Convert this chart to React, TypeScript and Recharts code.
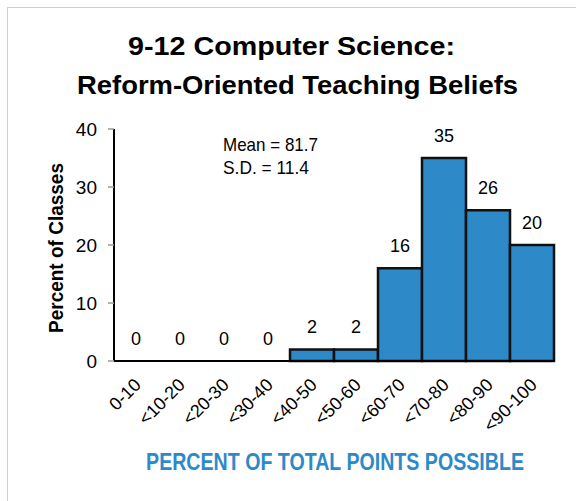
import React from 'react';
import { ComposedChart, Bar, Line, XAxis, YAxis, LabelList } from 'recharts';

const categories = ['0-10', '<10-20', '<20-30', '<30-40', '<40-50', '<50-60', '<60-70', '<70-80', '<80-90', '<90-100'];
const values = [0, 0, 0, 0, 2, 2, 16, 35, 26, 20];
const yTicks = [0, 10, 20, 30, 40];
const titleLines = ['9-12 Computer Science:', 'Reform-Oriented Teaching Beliefs'];
const yAxisTitle = 'Percent of Classes';
const xAxisTitle = 'PERCENT OF TOTAL POINTS POSSIBLE';
const statLines = ['Mean = 81.7', 'S.D. = 11.4'];

const data = categories.map((c, i) => ({ name: c, value: values[i] }));

const FONT = '"Liberation Sans", Arial, sans-serif';
const BLUE = '#2E89C8';

const XTick = (props: any) => {
  const { x, y, payload } = props;
  return (
    <g transform={`translate(${x + 6},${y + 17}) rotate(-45)`}>
      <text x={0} y={0} textAnchor="end" fontSize={18} fontFamily={FONT} fill="#000">
        {payload.value}
      </text>
    </g>
  );
};

export default function App() {
  return (
    <div style={{ position: 'absolute', left: 0, top: 0, width: 576, height: 501, background: '#fff', overflow: 'hidden' }}>
      <div style={{ position: 'absolute', left: 7, top: 7, width: 700, height: 700, borderTop: '1px solid #c6d0e4', borderLeft: '1px solid #c6d0e4' }} />
      <div style={{ position: 'absolute', left: 0, top: 0 }}>
        <ComposedChart width={576} height={501} data={data} margin={{ top: 129, right: 22, bottom: 50, left: 0 }} barCategoryGap={0}>
          <XAxis
            dataKey="name"
            height={90}
            interval={0}
            tick={<XTick />}
            tickLine={false}
            axisLine={{ stroke: '#000', strokeWidth: 2 }}
          />
          <YAxis
            width={114}
            domain={[0, 40]}
            ticks={yTicks}
            interval={0}
            tickSize={6}
            tickMargin={11}
            tick={{ fontSize: 19, fill: '#000', fontFamily: FONT }}
            tickLine={{ stroke: '#9a9a9a', strokeWidth: 1.5 }}
            axisLine={{ stroke: '#000', strokeWidth: 2 }}
          />
          <Bar dataKey="value" fill={BLUE} stroke="#111" strokeWidth={2.5} isAnimationActive={false} />
          <Line dataKey="value" stroke="none" dot={false} activeDot={false} isAnimationActive={false} legendType="none">
            <LabelList dataKey="value" position="top" offset={16} style={{ fontSize: 18, fill: '#000', fontFamily: FONT }} />
          </Line>
        </ComposedChart>
      </div>
      <svg width={576} height={501} style={{ position: 'absolute', left: 0, top: 0, pointerEvents: 'none' }}>
        <text x={291.5} y={55} textAnchor="middle" fontSize={26} fontWeight="bold" fontFamily={FONT} textLength={327} lengthAdjust="spacingAndGlyphs">
          {titleLines[0]}
        </text>
        <text x={297.5} y={94} textAnchor="middle" fontSize={26} fontWeight="bold" fontFamily={FONT} textLength={441} lengthAdjust="spacingAndGlyphs">
          {titleLines[1]}
        </text>
        <text
          x={0}
          y={0}
          transform="translate(63,248) rotate(-90)"
          textAnchor="middle"
          fontSize={21}
          fontWeight="bold"
          fontFamily={FONT}
          textLength={170}
          lengthAdjust="spacingAndGlyphs"
        >
          {yAxisTitle}
        </text>
        <text
          x={0}
          y={0}
          transform="translate(335,470) scale(0.817,1)"
          textAnchor="middle"
          fontSize={24}
          fontWeight="bold"
          fontFamily={FONT}
          fill={BLUE}
        >
          {xAxisTitle}
        </text>
        <text x={223} y={150.7} fontSize={19} fontFamily={FONT} textLength={95} lengthAdjust="spacingAndGlyphs">
          {statLines[0]}
        </text>
        <text x={223} y={174} fontSize={19} fontFamily={FONT} textLength={86} lengthAdjust="spacingAndGlyphs">
          {statLines[1]}
        </text>
      </svg>
    </div>
  );
}
